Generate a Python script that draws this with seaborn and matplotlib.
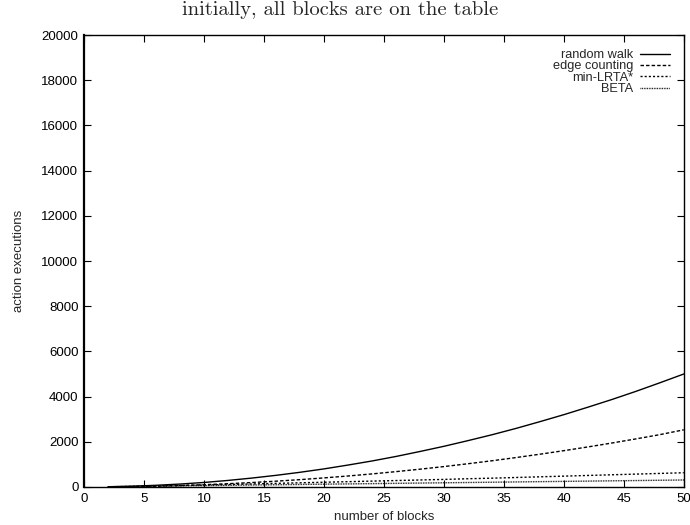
import numpy as np
import pandas as pd
import matplotlib
matplotlib.use('Agg')
import matplotlib.pyplot as plt
import seaborn as sns

# blocks on the x axis
blocks = [2, 4, 6, 8, 10, 12, 14, 16, 18, 20, 22, 24, 26,
          28, 30, 32, 34, 36, 38, 40, 42, 44, 46, 48, 50]

# action executions
random_walk = [10, 35, 75, 130, 200, 290, 395, 515, 650, 800, 970, 1150, 1350,
               1570, 1800, 2050, 2310, 2590, 2890, 3200, 3530, 3870, 4230, 4610, 5000]
edge_counting = [4, 16, 36, 64, 100, 145, 197, 257, 325, 402, 486, 578, 679,
                 787, 903, 1028, 1160, 1301, 1450, 1607, 1772, 1945, 2127, 2316, 2530]
min_lrta = [10, 25, 45, 65, 90, 110, 135, 160, 185, 210, 235, 260, 285,
            310, 335, 365, 390, 420, 450, 480, 510, 540, 570, 600, 630]
beta = [12, 25, 37, 50, 62, 74, 87, 99, 112, 124, 136, 149, 161,
        174, 186, 198, 211, 223, 236, 248, 260, 273, 285, 298, 310]

names = ['random walk', 'edge counting', 'min-LRTA*', 'BETA']
series = [random_walk, edge_counting, min_lrta, beta]
styles = ['-', (0, (2.5, 1.5)), (0, (1.5, 1.5)), (0, (0.6, 0.6))]

sns.set_style('ticks')
plt.rcParams['font.family'] = ['Liberation Sans', 'DejaVu Sans']

fig = plt.figure(figsize=(6.9, 5.25), dpi=100)
ax = fig.add_axes([0.1217, 0.0724, 0.8693, 0.8609])

for name, vals, ls in zip(names, series, styles):
    sns.lineplot(x=blocks, y=vals, ax=ax, color='black', linewidth=1.0,
                 linestyle=ls, label=name)

ax.set_xlim(0, 50)
ax.set_ylim(0, 20000)
ax.set_xticks(np.arange(0, 51, 5))
ax.set_yticks(np.arange(0, 20001, 2000))
ax.tick_params(direction='in', length=5, width=0.8, top=True, right=True,
               labelsize=9.5, pad=4, colors='black')
for s in ax.spines.values():
    s.set_linewidth(1.0)
    s.set_color('black')
ax.spines['left'].set_linewidth(1.6)

ax.set_xlabel('number of blocks', fontsize=9.5, labelpad=5)
ax.set_ylabel('action executions', fontsize=9.5, labelpad=12)
fig.suptitle('initially, all blocks are on the table', fontsize=14.8,
             family='cmr10', x=0.493, y=0.981, va='center')

leg = ax.legend(loc='upper right', frameon=False, markerfirst=False,
                fontsize=9.2, handlelength=2.3, handletextpad=0.55,
                labelspacing=-0.05, borderaxespad=0.7)
for t in leg.get_texts():
    t.set_ha('right')

fig.savefig('out.png', dpi=100)
